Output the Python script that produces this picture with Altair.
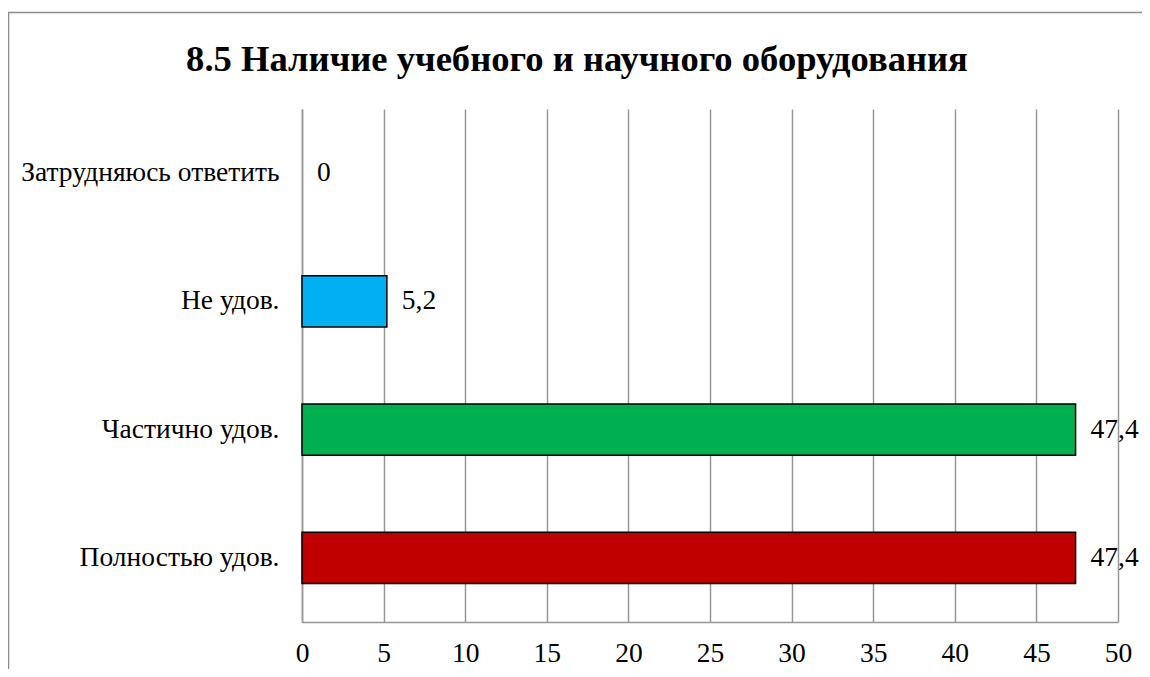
import altair as alt
import pandas as pd

categories = ["Затрудняюсь ответить", "Не удов.", "Частично удов.", "Полностью удов."]
values = [0, 5.2, 47.4, 47.4]
colors = ["#00B0F0", "#00B0F0", "#00B050", "#C00000"]
x_ticks = [0, 5, 10, 15, 20, 25, 30, 35, 40, 45, 50]
title_text = "8.5 Наличие учебного и научного оборудования"

df = pd.DataFrame({
    "cat": categories,
    "val": values,
    "color": colors,
    "label": [f"{v:g}".replace(".", ",") for v in values],
})

FONT = "Liberation Serif"
FS = 27.5
W, H = 816, 513

x_enc = alt.X("val:Q", scale=alt.Scale(domain=[0, 50], nice=False),
              axis=alt.Axis(values=x_ticks, title=None, ticks=False, grid=True,
                            gridColor="#969696", gridWidth=1.5,
                            domainColor="#969696", domainWidth=1.5,
                            labelFont=FONT, labelFontSize=FS, labelColor="#000000",
                            labelPadding=17, labelFlush=False))
y_enc = alt.Y("cat:N", sort=categories,
              scale=alt.Scale(paddingInner=0.6, paddingOuter=0.3),
              axis=alt.Axis(title=None, ticks=False, grid=False,
                            domainColor="#969696", domainWidth=1.5,
                            labelFont=FONT, labelFontSize=FS, labelColor="#000000",
                            labelPadding=23, labelLimit=400))

base = alt.Chart(df)

bars = base.transform_filter("datum.val > 0").mark_bar(stroke="#000000", strokeWidth=1.5).encode(
    x=x_enc, y=y_enc,
    color=alt.Color("color:N", scale=None),
)

labels = base.mark_text(align="left", baseline="middle", dx=15, font=FONT,
                        fontSize=FS, color="#000000").encode(
    x=alt.X("val:Q"), y=alt.Y("cat:N", sort=categories), text="label:N"
)

frame = alt.Chart(pd.DataFrame({"a": [0]})).mark_rect(
    filled=False, stroke="#8c8c8c", strokeWidth=1.5
).encode(
    x=alt.value(-293.5), x2=alt.value(1000),
    y=alt.value(-96.5), y2=alt.value(800),
)

chart = alt.layer(frame, bars, labels).properties(
    width=W, height=H,
    title=alt.TitleParams(title_text, font=FONT, fontSize=36.6, fontWeight="bold",
                          color="#000000", anchor="middle", frame="group",
                          baseline="alphabetic", offset=-96, dx=-133),
    autosize=alt.AutoSizeParams(type="none"),
    padding={"left": 294, "top": 101, "right": 24, "bottom": 47},
).configure_view(stroke="transparent")

chart.save("out.html", embed_options={"renderer": "svg", "actions": False})
